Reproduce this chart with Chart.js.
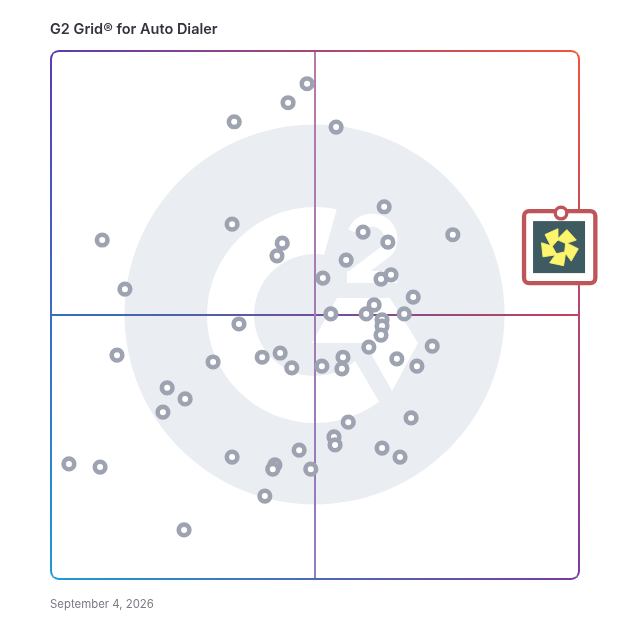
<!DOCTYPE html>
<html>
<head>
<meta charset="utf-8">
<title>G2 Grid for Auto Dialer</title>
<script src="https://cdn.jsdelivr.net/npm/chart.js@4"></script>
<style>
body{margin:0;background:#fff;font-family:Inter,sans-serif;}
#wrap{position:relative;width:628px;height:628px;}
#title{position:absolute;left:50px;top:20px;margin:0;font-size:14.5px;line-height:18px;font-weight:600;color:#33333f;white-space:nowrap;}
#date{position:absolute;left:50px;top:597px;margin:0;font-size:11.4px;line-height:14px;color:#7b7b85;white-space:nowrap;}
canvas{position:absolute;left:0;top:0;}
</style>
</head>
<body>
<div id="wrap">
<canvas id="grid" width="628" height="628"></canvas>
<h1 id="title">G2 Grid® for Auto Dialer</h1>
<p id="date">September 4, 2026</p>
</div>
<script>
const satisfaction = [48.5,44.9,34.7,54.0,63.1,59.1,34.3,9.7,43.8,63.8,42.8,55.9,76.1,51.5,62.5,64.4,14.0,68.6,61.2,53.0,59.7,66.9,62.7,62.7,62.5,35.6,60.2,72.2,12.5,30.7,40.0,43.4,45.6,51.3,55.3,55.1,65.5,69.3,22.0,25.4,21.2,56.3,68.2,53.6,53.8,62.7,66.1,47.0,34.3,3.4,9.3,42.4,42.0,49.2,40.5,25.2];
const marketPresence = [93.8,90.2,86.6,85.6,70.5,65.7,67.2,64.2,63.6,63.8,61.2,60.4,65.2,57.0,56.8,57.6,54.9,53.4,51.9,50.2,50.2,50.2,49.1,47.9,46.2,48.3,43.9,44.1,42.4,41.1,42.0,42.8,40.0,40.3,42.0,39.8,41.7,40.3,36.2,34.1,31.6,29.7,30.5,26.9,25.4,24.8,23.1,24.4,23.1,21.8,21.2,21.6,20.8,20.8,15.7,9.3];
const featuredX = [96.6];
const featuredY = [69.3];

function toPoints(xs, ys){
    return xs.map((x, i) => ({x: x, y: ys[i]}));
}

function gradientLine(ctx, x1, y1, x2, y2, colors, width){
    const g = ctx.createLinearGradient(x1, y1, x2, y2);
    colors.forEach((c, i) => g.addColorStop(i / (colors.length - 1), c));
    ctx.strokeStyle = g;
    ctx.lineWidth = width;
    ctx.beginPath();
    ctx.moveTo(x1, y1);
    ctx.lineTo(x2, y2);
    ctx.stroke();
}

// grey G2 watermark behind the grid, offsets are from the grid centre
function drawLogo(ctx, cx, cy){
    ctx.save();
    ctx.translate(cx, cy);
    ctx.fillStyle = '#eaedf1';
    ctx.beginPath();
    ctx.arc(-0.5, -0.5, 190, 0, Math.PI * 2);
    ctx.fill();

    ctx.fillStyle = '#fff';
    // the G
    ctx.beginPath();
    ctx.arc(0, 0, 108, Math.atan2(-107, 22), Math.atan2(88, 65), true);
    ctx.arc(0, 0, 61, Math.atan2(48, 42), Math.atan2(-60, 9), false);
    ctx.closePath();
    ctx.fill();

    // the chevron
    ctx.beginPath();
    ctx.moveTo(22, -17);
    ctx.lineTo(75, -17);
    ctx.lineTo(103, 28);
    ctx.lineTo(77, 76);
    ctx.lineTo(50, 28);
    ctx.lineTo(-3, 28);
    ctx.closePath();
    ctx.fill();

    // the 2
    ctx.strokeStyle = '#fff';
    ctx.lineWidth = 13;
    ctx.beginPath();
    ctx.arc(57, -76, 19, Math.PI * 1.12, Math.PI * 0.2, false);
    ctx.lineTo(37, -38);
    ctx.stroke();
    ctx.fillRect(32, -44, 50, 12);
    ctx.restore();
}

function drawFeatured(ctx, px, py){
    ctx.save();
    ctx.translate(px, py);
    ctx.fillStyle = '#fff';
    ctx.strokeStyle = '#bf5558';
    ctx.lineWidth = 4.3;
    ctx.beginPath();
    ctx.roundRect(-37, -2, 71.3, 72, 5);
    ctx.fill();
    ctx.stroke();
    ctx.fillStyle = '#3f5b62';
    ctx.fillRect(-28, 8, 52, 52);

    // pinwheel
    ctx.translate(-1.7, 34);
    ctx.fillStyle = '#fdf56b';
    ctx.strokeStyle = '#fdf56b';
    ctx.lineWidth = 0.8;
    ctx.lineJoin = 'round';
    for(let i = 0; i < 5; i++){
        ctx.beginPath();
        ctx.moveTo(-2.5, -7.5);
        ctx.lineTo(7.5, -17.5);
        ctx.lineTo(17, -7);
        ctx.lineTo(6.5, -3.5);
        ctx.closePath();
        ctx.fill();
        ctx.stroke();
        ctx.rotate(Math.PI * 2 / 5);
    }
    ctx.restore();
}

const gridBackground = {
    id: 'gridBackground',
    beforeDatasetsDraw(chart){
        const ctx = chart.ctx;
        const a = chart.chartArea;
        const mx = chart.scales.x.getPixelForValue(50);
        const my = chart.scales.y.getPixelForValue(50);

        ctx.save();
        drawLogo(ctx, mx, my);

        gradientLine(ctx, a.left, my, a.right, my, ['#2f72bc', '#6f4f9b', '#c8405c'], 2);
        gradientLine(ctx, mx, a.top, mx, a.bottom, ['#b87aa6', '#8f7cc2'], 2);

        // border, each side has its own gradient
        const r = 8;
        const tl = '#5a3db0', tr = '#f4533a', br = '#7a3a9e', bl = '#1d9ad6';
        const sides = [
            [a.left, a.top, a.right, a.top, tl, tr],
            [a.right, a.top, a.right, a.bottom, tr, br],
            [a.left, a.bottom, a.right, a.bottom, bl, br],
            [a.left, a.top, a.left, a.bottom, tl, bl]
        ];
        ctx.save();
        ctx.beginPath();
        ctx.roundRect(a.left - 1, a.top - 1, a.width + 2, a.height + 2, r + 1);
        ctx.roundRect(a.left + 1, a.top + 1, a.width - 2, a.height - 2, r - 1);
        ctx.clip('evenodd');
        sides.forEach(s => gradientLine(ctx, s[0], s[1], s[2], s[3], [s[4], s[5]], 5));
        ctx.restore();
        ctx.restore();

        const p = chart.getDatasetMeta(1).data[0];
        drawFeatured(ctx, p.x, p.y);
    }
};

new Chart(document.getElementById('grid').getContext('2d'), {
    type: 'scatter',
    data: {
        datasets: [{
            label: 'Products',
            data: toPoints(satisfaction, marketPresence),
            pointRadius: 5.3,
            pointHoverRadius: 5.3,
            pointBorderWidth: 4.6,
            pointBorderColor: '#9ea3b2',
            pointBackgroundColor: '#fff'
        },{
            label: 'Featured',
            data: toPoints(featuredX, featuredY),
            pointRadius: 5.8,
            pointHoverRadius: 5.8,
            pointBorderWidth: 3.4,
            pointBorderColor: '#bf5558',
            pointBackgroundColor: '#fff'
        }]
    },
    options: {
        responsive: false,
        animation: false,
        layout: {padding: {left: 51, top: 51, right: 49, bottom: 49}},
        plugins: {legend: {display: false}, tooltip: {enabled: false}},
        scales: {
            x: {display: false, min: 0, max: 100},
            y: {display: false, min: 0, max: 100}
        }
    },
    plugins: [gridBackground]
});
</script>
</body>
</html>
